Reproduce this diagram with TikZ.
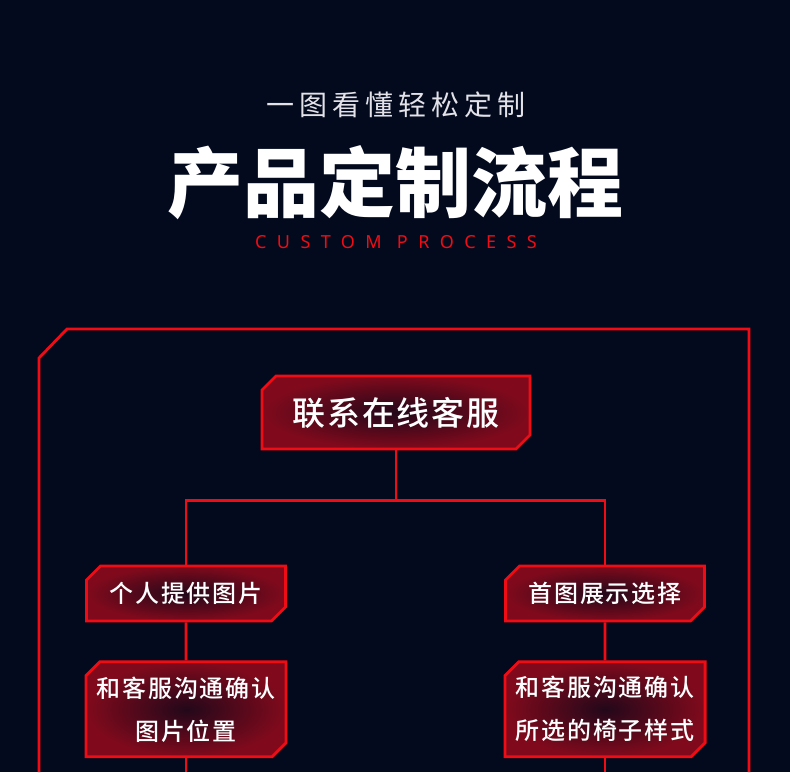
\documentclass[tikz,border=0pt]{standalone}
\usepackage{fontspec}
\usetikzlibrary{positioning, shapes.misc}
\newfontfamily\cjk{Noto Sans CJK SC}
\IfFontExistsTF{Noto Sans CJK SC Black}{\newfontfamily\cjkheavy{Noto Sans CJK SC Black}}{\newfontfamily\cjkheavy{Noto Sans CJK SC Bold}}
\IfFontExistsTF{Noto Sans CJK SC Medium}{\newfontfamily\cjkmid{Noto Sans CJK SC Medium}}{\newfontfamily\cjkmid{Noto Sans CJK SC}}
\newfontfamily\latinsans{Noto Sans}
\definecolor{bgnavy}{RGB}{3,10,30}
\definecolor{linered}{RGB}{240,12,20}
\definecolor{glowin}{RGB}{34,8,26}
\definecolor{glowout}{RGB}{128,10,28}
\definecolor{softwhite}{RGB}{226,226,232}
\tikzset{
    stepbox/.style={chamfered rectangle, chamfered rectangle corners={north west, south east},
        chamfered rectangle xsep=7pt, chamfered rectangle ysep=7pt,
        draw=linered, line width=2.8pt, inner color=glowin, outer color=glowout,
        text=white, align=center, minimum width=199pt, minimum height=55pt,
        font=\cjkmid\fontsize{24pt}{43pt}\selectfont\addfontfeatures{LetterSpace=8}},
    flowline/.style={draw=linered, line width=2.8pt}
}

\begin{document}
\begin{tikzpicture}[x=1pt, y=-1pt]
    \fill[bgnavy] (0,0) rectangle (790,772);
    \useasboundingbox (0,0) rectangle (790,772);
    % heading
    \node[text=softwhite, font=\cjk\fontsize{28pt}{30pt}\selectfont\addfontfeatures{LetterSpace=18}] (sub) at (396,105) {一图看懂轻松定制};
    \node[text=white, font=\cjkheavy\fontsize{76pt}{80pt}\selectfont] (title) at (395,183) {产品定制流程};
    \node[text=linered, font=\latinsans\fontsize{18pt}{20pt}\selectfont\addfontfeatures{LetterSpace=58}] (en) at (396,242) {CUSTOM PROCESS};
    % frame
    \draw[flowline] (39,772) -- (39,358) -- (67,329) -- (749,329) -- (749,772);
    % steps
    \node[stepbox, minimum width=268pt, minimum height=73pt, font=\cjkmid\fontsize{33pt}{36pt}\selectfont\addfontfeatures{LetterSpace=5}] (contact) at (396,412.5) {联系在线客服};
    \node[stepbox] (own) at (186,593.5) {个人提供图片};
    \node[stepbox, minimum height=95pt, below=38pt of own] (ownconfirm) {和客服沟通确认\\图片位置};
    \node[stepbox] (pick) at (605,593.5) {首图展示选择};
    \node[stepbox, minimum height=95pt, below=38pt of pick] (pickconfirm) {和客服沟通确认\\所选的椅子样式};
    \coordinate (bottom) at (0,772);
    \draw[flowline] (contact.south) -- ++(0,50) coordinate (split);
    \draw[flowline] (own.north) -- (own.north |- split) -- (pick.north |- split) -- (pick.north);
    \draw[flowline] (own) -- (ownconfirm);
    \draw[flowline] (pick) -- (pickconfirm);
    \draw[flowline] (ownconfirm.south) -- (ownconfirm.south |- bottom);
    \draw[flowline] (pickconfirm.south) -- (pickconfirm.south |- bottom);
\end{tikzpicture}
\end{document}
